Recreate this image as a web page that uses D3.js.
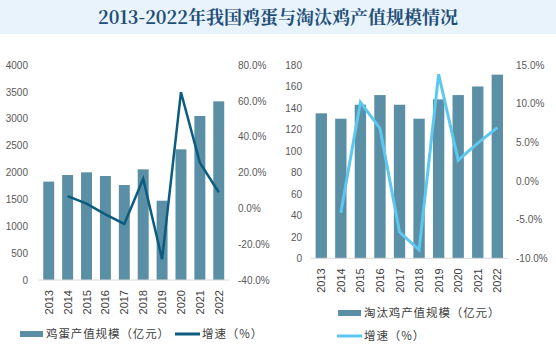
<!DOCTYPE html>
<html>
<head>
<meta charset="utf-8">
<script src="https://cdn.jsdelivr.net/npm/d3@7"></script>
<style>
  body { margin: 0; background: #fff; }
  svg { display: block; font-family: "Noto Sans CJK SC", "Noto Sans", sans-serif; }
  .tick text { fill: #595959; font-size: 10px; font-family: "Liberation Sans", Arial, sans-serif; }
</style>
</head>
<body>
<svg id="chart" width="556" height="353"></svg>
<script>
const years = ['2013','2014','2015','2016','2017','2018','2019','2020','2021','2022'];

// 鸡蛋产值规模（亿元） and growth (%)
const eggValue = [1830, 1953, 2003, 1935, 1767, 2059, 1475, 2431, 3051, 3324];
const eggGrowth = [null, 6.8, 2.6, -3.4, -8.7, 16.5, -28.4, 64.8, 25.5, 9.0];

// 淘汰鸡产值规模（亿元） and growth (%)
const henValue = [135, 130, 143, 152, 143, 130, 148, 152, 160, 171];
const henGrowth = [null, -4.1, 10.2, 6.8, -6.6, -8.9, 13.8, 2.7, 4.9, 6.9];

const eggTicks = [0, 500, 1000, 1500, 2000, 2500, 3000, 3500, 4000];
const eggPctTicks = [-40, -20, 0, 20, 40, 60, 80];
const henTicks = [0, 20, 40, 60, 80, 100, 120, 140, 160, 180];
const henPctTicks = [-10, -5, 0, 5, 10, 15];

const barColor = '#5a8fa6';
const svg = d3.select('#chart');

// title banner
svg.append('rect').attr('x', 0).attr('y', 0).attr('width', 556).attr('height', 34).attr('fill', '#e8f3fb');
svg.append('text')
    .attr('x', 278).attr('y', 24)
    .attr('text-anchor', 'middle')
    .attr('fill', '#1f4e79')
    .style('font-size', '18px')
    .style('font-weight', 'bold')
    .style('font-family', '"Noto Serif CJK SC", "Noto Sans CJK SC", serif')
    .text('2013-2022年我国鸡蛋与淘汰鸡产值规模情况');

function drawPanel(opt) {
    const x = d3.scaleBand().domain(years).range(opt.xRange).paddingInner(0.42).paddingOuter(0.21);
    const y = d3.scaleLinear().domain(opt.yDomain).range([opt.bottom, opt.top]);
    const y2 = d3.scaleLinear().domain(opt.y2Domain).range([opt.bottom, opt.top]);
    const g = svg.append('g');

    g.selectAll('rect.bar')
        .data(opt.values)
        .enter()
        .append('rect')
        .attr('class', 'bar')
        .attr('x', (d, i) => x(years[i]))
        .attr('width', x.bandwidth())
        .attr('y', d => y(d))
        .attr('height', d => y(0) - y(d))
        .attr('fill', barColor);

    // baseline
    g.append('line')
        .attr('x1', opt.xRange[0] - 1).attr('x2', opt.xRange[1] + 1)
        .attr('y1', y(0)).attr('y2', y(0))
        .attr('stroke', '#d9d9d9').attr('stroke-width', 1);

    const line = d3.line()
        .defined(d => d != null)
        .x((d, i) => x(years[i]) + x.bandwidth() / 2)
        .y(d => y2(d));
    g.append('path')
        .datum(opt.growth)
        .attr('d', line)
        .attr('fill', 'none')
        .attr('stroke', opt.lineColor)
        .attr('stroke-width', opt.lineWidth)
        .attr('stroke-linejoin', 'miter');

    const left = g.append('g')
        .attr('transform', `translate(${opt.leftAxisX},0)`)
        .call(d3.axisLeft(y).tickValues(opt.yTicks).tickSize(0).tickPadding(0).tickFormat(d3.format('d')));
    left.select('.domain').remove();

    const right = g.append('g')
        .attr('transform', `translate(${opt.rightAxisX},0)`)
        .call(d3.axisRight(y2).tickValues(opt.y2Ticks).tickSize(0).tickPadding(0).tickFormat(d => d.toFixed(1) + '%'));
    right.select('.domain').remove();

    g.selectAll('text.year')
        .data(years)
        .enter()
        .append('text')
        .attr('class', 'year')
        .attr('transform', d => `translate(${x(d) + x.bandwidth() / 2 + 4},${y(0) + 10}) rotate(-90)`)
        .attr('text-anchor', 'end')
        .attr('fill', '#404040')
        .style('font-size', '11px')
        .style('font-family', '"Liberation Sans", Arial, sans-serif')
        .text(d => d);
}

drawPanel({
    values: eggValue, growth: eggGrowth,
    xRange: [39.3, 228.2], top: 65, bottom: 280,
    yDomain: [0, 4000], y2Domain: [-40, 80],
    yTicks: eggTicks, y2Ticks: eggPctTicks,
    leftAxisX: 28, rightAxisX: 238,
    lineColor: '#0c5c80', lineWidth: 2.5
});

drawPanel({
    values: henValue, growth: henGrowth,
    xRange: [311.5, 507.1], top: 65, bottom: 258.3,
    yDomain: [0, 180], y2Domain: [-10, 15],
    yTicks: henTicks, y2Ticks: henPctTicks,
    leftAxisX: 302, rightAxisX: 516,
    lineColor: '#5cc8f0', lineWidth: 3
});

// legends
const legend = svg.append('g').style('font-size', '11.5px').style('letter-spacing', '0.9px').attr('fill', '#404040');
function legendItem(x, y, kind, color, label) {
    if (kind === 'bar') {
        legend.append('rect').attr('x', x).attr('y', y - 3).attr('width', 23).attr('height', 6).attr('fill', color);
    } else {
        legend.append('line').attr('x1', x).attr('x2', x + 25).attr('y1', y).attr('y2', y)
            .attr('stroke', color).attr('stroke-width', 3);
    }
    legend.append('text').attr('x', kind === 'bar' ? x + 26 : x + 27).attr('y', y + 4).text(label);
}
legendItem(20, 334, 'bar', barColor, '鸡蛋产值规模（亿元）');
legendItem(175, 334, 'line', '#0c5c80', '增速（%）');
legendItem(338, 313, 'bar', barColor, '淘汰鸡产值规模（亿元）');
legendItem(337, 336, 'line', '#5cc8f0', '增速（%）');
</script>
</body>
</html>
